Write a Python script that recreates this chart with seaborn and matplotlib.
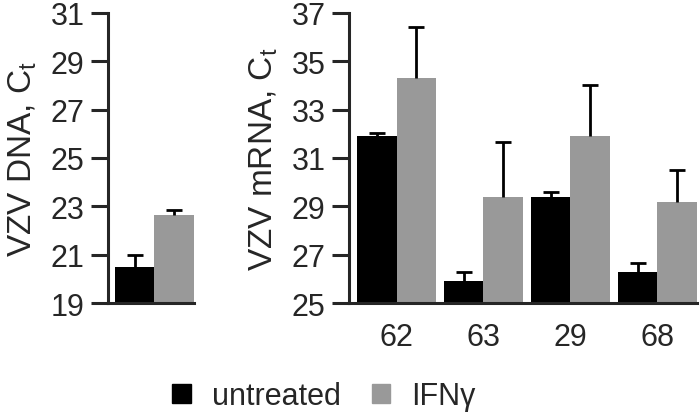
import numpy as np
import pandas as pd
import matplotlib
matplotlib.use('Agg')
import matplotlib.pyplot as plt
import seaborn as sns

# values (mean Ct, upper error)
treatments = ['untreated', 'IFNγ']
colors = ['#000000', '#999999']

dna_mean = [20.5, 22.65]
dna_err = [0.5, 0.2]

genes = ['62', '63', '29', '68']
mrna_untreated = [31.9, 25.9, 29.4, 26.3]
mrna_untreated_err = [0.12, 0.37, 0.18, 0.35]
mrna_ifng = [34.3, 29.37, 31.9, 29.17]
mrna_ifng_err = [2.1, 2.28, 2.12, 1.35]

sns.set_style('ticks')
plt.rcParams['font.family'] = ['Liberation Sans', 'DejaVu Sans']
plt.rcParams['mathtext.fontset'] = 'custom'
plt.rcParams['mathtext.rm'] = 'Liberation Sans'

FS = 22
LW = 2.2

dna_df = pd.DataFrame({'assay': ['DNA', 'DNA'], 'treatment': treatments,
                       'ct': dna_mean, 'err': dna_err})
mrna_df = pd.DataFrame({
    'gene': genes * 2,
    'treatment': [treatments[0]] * 4 + [treatments[1]] * 4,
    'ct': mrna_untreated + mrna_ifng,
    'err': mrna_untreated_err + mrna_ifng_err,
})

fig = plt.figure(figsize=(7, 4.14), dpi=100)
ax1 = fig.add_axes([0.1543, 0.2657, 0.1229, 0.7005])
ax2 = fig.add_axes([0.4986, 0.2657, 0.4971, 0.7005])


def draw(ax, df, x, width):
    sns.barplot(data=df, x=x, y='ct', hue='treatment', hue_order=treatments,
                palette=colors, width=width, errorbar=None, saturation=1,
                linewidth=0, ax=ax, legend=False)
    for cont, t in zip(ax.containers, treatments):
        errs = df.loc[df['treatment'] == t, 'err'].to_numpy()
        xs = [p.get_x() + p.get_width() / 2 for p in cont.patches]
        ys = [p.get_height() for p in cont.patches]
        eb = ax.errorbar(xs, ys, yerr=[np.zeros_like(errs), errs], fmt='none',
                         ecolor='black', elinewidth=2.0, capsize=6,
                         capthick=2.0, zorder=1)
        eb[1][0].set_visible(False)  # upper error only
    sns.despine(ax=ax)
    for s in ['left', 'bottom']:
        ax.spines[s].set_linewidth(LW)
    ax.tick_params(axis='y', length=12, width=LW, labelsize=FS, pad=5,
                   direction='out')
    ax.tick_params(axis='x', length=0, labelsize=FS, pad=14)
    ax.set_xlabel('')


draw(ax1, dna_df, 'assay', 0.8)
ax1.set_ylim(19, 31)
ax1.set_yticks(np.arange(19, 32, 2))
ax1.set_xlim(-0.47, 0.4)
ax1.set_xticks([])
ax1.set_ylabel('VZV DNA, C$_\\mathregular{t}$', fontsize=FS + 2, labelpad=8)

draw(ax2, mrna_df, 'gene', 0.91)
ax2.set_ylim(25, 37)
ax2.set_yticks(np.arange(25, 38, 2))
ax2.set_xlim(-0.546, 3.455)
ax2.set_ylabel('VZV mRNA, C$_\\mathregular{t}$', fontsize=FS + 2, labelpad=8)

handles = [plt.Rectangle((0, 0), 1, 1, color=c) for c in colors]
fig.legend(handles, treatments, loc='center', bbox_to_anchor=(0.463, 0.041),
           ncol=2, frameon=False, fontsize=FS, handlelength=0.6,
           handleheight=0.6, handletextpad=0.7, columnspacing=1.0)

fig.savefig('out.png', dpi=100)
